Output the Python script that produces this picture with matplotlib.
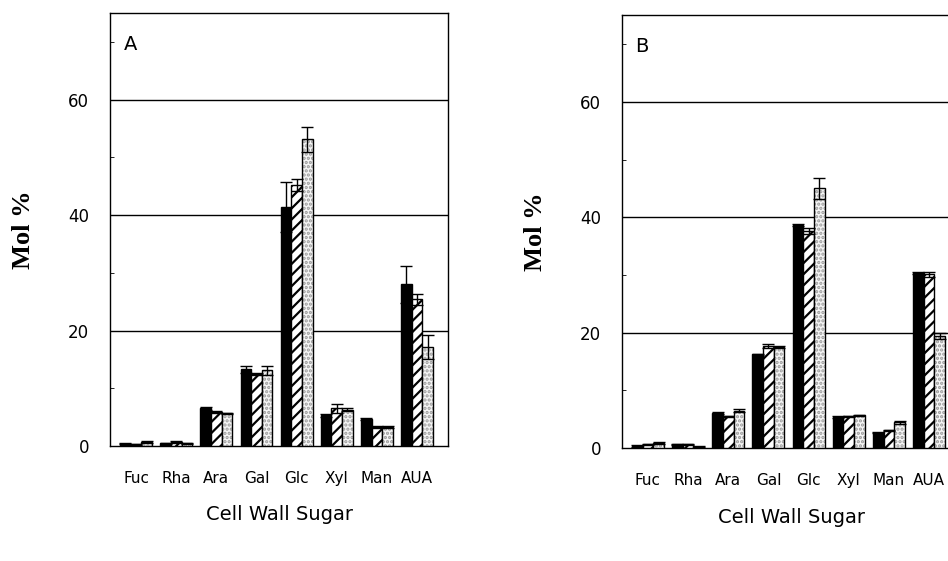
import matplotlib.pyplot as plt
import numpy as np

sugars = ['Fuc', 'Rha', 'Ara', 'Gal', 'Glc', 'Xyl', 'Man', 'AUA']
tick_labels = ['Fuc', 'Rha', 'Ara', 'Gal', 'Glc', 'Xyl', 'Man', 'AUA']

# panel A
a_black = [0.4, 0.5, 6.5, 13.3, 41.4, 5.3, 4.7, 28.0]
a_black_err = [0.1, 0.1, 0.2, 0.6, 4.4, 0.2, 0.2, 3.2]
a_hatch = [0.3, 0.7, 5.9, 12.5, 45.2, 6.5, 3.3, 25.4]
a_hatch_err = [0.1, 0.1, 0.1, 0.2, 1.0, 0.8, 0.2, 1.0]
a_dot = [0.7, 0.5, 5.7, 13.1, 53.1, 6.3, 3.3, 17.2]
a_dot_err = [0.1, 0.1, 0.1, 0.8, 2.2, 0.3, 0.2, 2.1]

# panel B
b_black = [0.4, 0.7, 6.1, 16.3, 38.7, 5.4, 2.7, 30.3]
b_black_err = [0.1, 0.1, 0.1, 0.1, 0.2, 0.1, 0.1, 0.2]
b_hatch = [0.7, 0.7, 5.5, 17.7, 37.6, 5.5, 3.1, 30.1]
b_hatch_err = [0.1, 0.1, 0.1, 0.4, 0.5, 0.1, 0.1, 0.4]
b_dot = [0.9, 0.3, 6.5, 17.5, 45.0, 5.7, 4.5, 19.4]
b_dot_err = [0.1, 0.1, 0.3, 0.2, 1.8, 0.1, 0.3, 0.5]

plt.rcParams['hatch.linewidth'] = 1.6

fig = plt.figure(figsize=(9.48, 5.61), dpi=100)


def panel(rect, letter, black, black_err, hatch, hatch_err, dot, dot_err):
    ax = fig.add_axes(rect)
    x = np.arange(len(sugars))
    w = 0.265
    ek = dict(elinewidth=1.0, capsize=4, capthick=1.0, ecolor='black')
    ax.bar(x - w, black, w, color='black', edgecolor='black', linewidth=1,
           yerr=black_err, error_kw=ek, zorder=3)
    ax.bar(x, hatch, w, color='white', edgecolor='black', linewidth=1,
           hatch='///', yerr=hatch_err, error_kw=ek, zorder=3)
    # stippled bars: grey dots, then black outline
    ax.bar(x + w, dot, w, color='#f6f6f6', edgecolor='#9a9a9a', linewidth=0,
           hatch='....', zorder=3)
    ax.bar(x + w, dot, w, fill=False, edgecolor='black', linewidth=1,
           yerr=dot_err, error_kw=ek, zorder=4)

    ax.set_xlim(-0.65, 7.78)
    ax.set_ylim(0, 75)
    ax.set_yticks([0, 20, 40, 60])
    ax.set_yticks([10, 30, 50, 70], minor=True)
    for g in [20, 40, 60]:
        ax.axhline(g, color='black', linewidth=1.0, zorder=1)
    ax.set_xticks(x)
    ax.set_xticklabels(tick_labels, fontsize=11)
    ax.tick_params(axis='x', length=0, pad=18)
    ax.tick_params(axis='y', which='major', direction='in', length=0,
                   labelsize=12, pad=15)
    ax.tick_params(axis='y', which='minor', direction='in', length=3)
    for s in ax.spines.values():
        s.set_linewidth(1.0)
    ax.set_xlabel('Cell Wall Sugar', fontsize=14, labelpad=14)
    ax.set_ylabel('Mol %', fontsize=19, fontweight='bold',
                  family='Liberation Serif')
    ax.yaxis.set_label_coords(-0.222, 0.5)
    ax.text(0.04, 0.95, letter, transform=ax.transAxes, fontsize=14,
            va='top', ha='left')
    return ax


panel([0.116, 0.205, 0.357, 0.772], 'A',
      a_black, a_black_err, a_hatch, a_hatch_err, a_dot, a_dot_err)
panel([0.656, 0.201, 0.357, 0.772], 'B',
      b_black, b_black_err, b_hatch, b_hatch_err, b_dot, b_dot_err)

fig.savefig('out.png', dpi=100)
